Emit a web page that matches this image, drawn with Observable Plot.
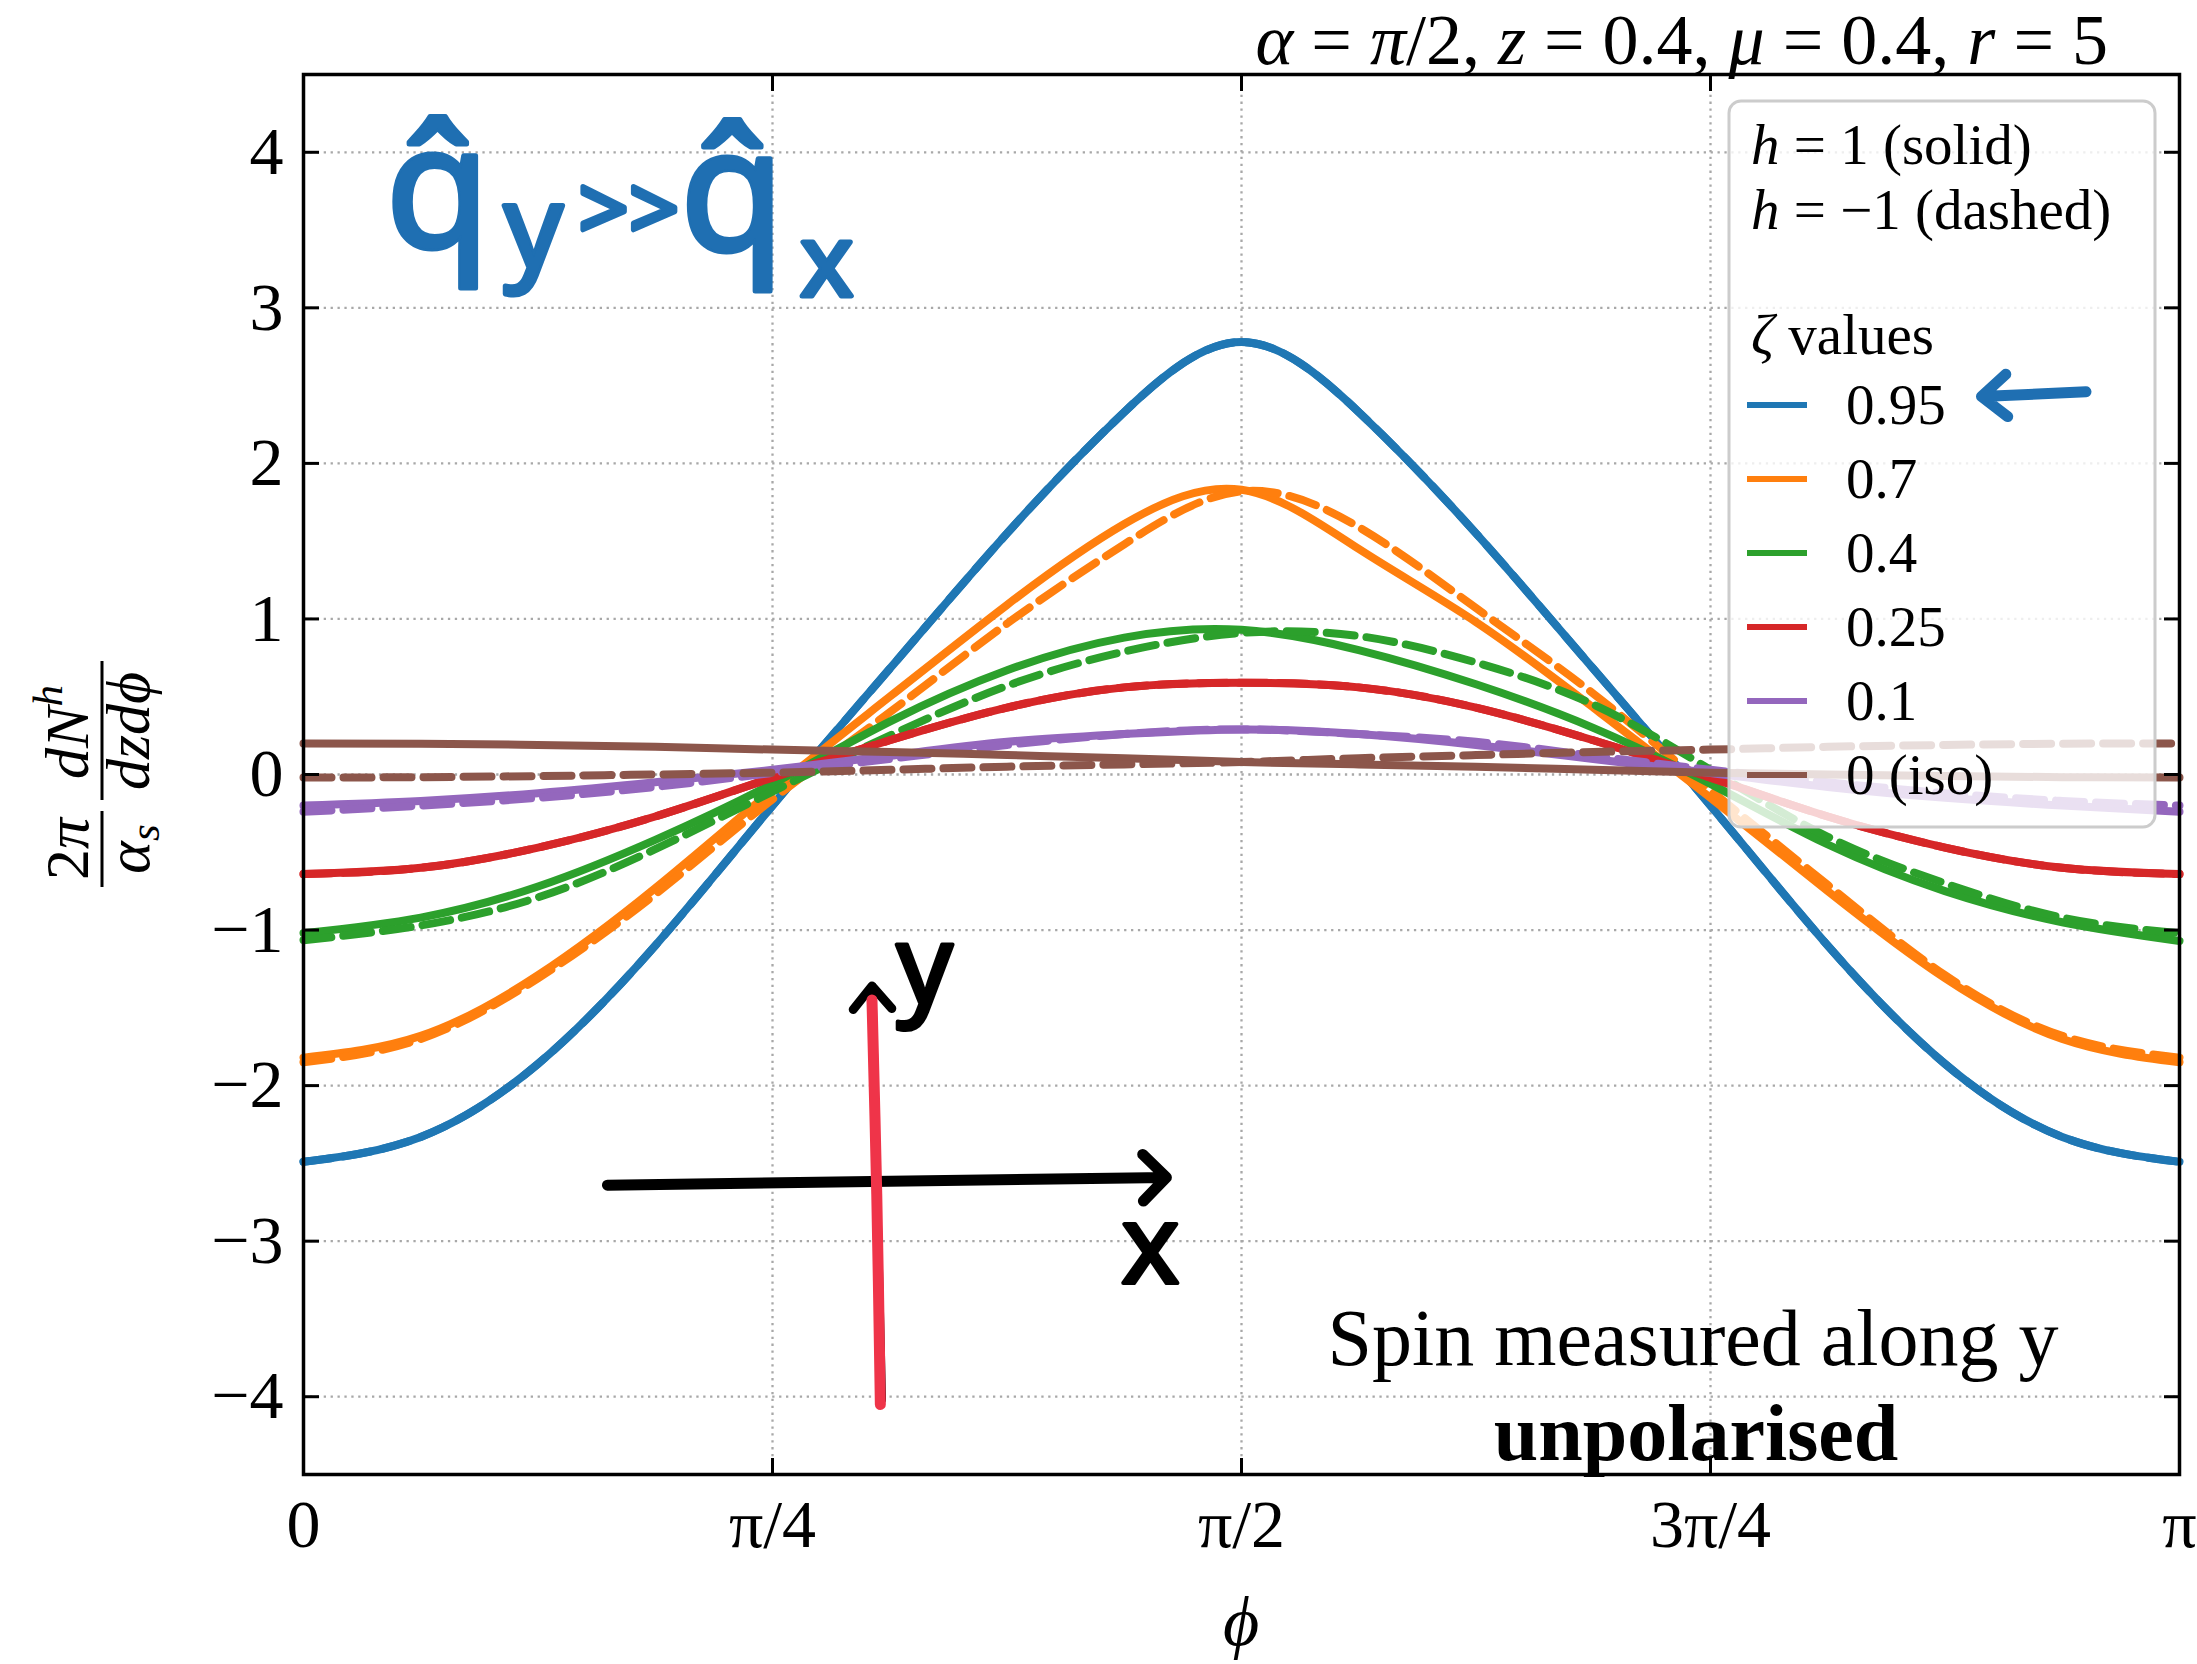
<!DOCTYPE html>
<html><head><meta charset="utf-8">
<script src="https://cdn.jsdelivr.net/npm/d3@7"></script>
<script src="https://cdn.jsdelivr.net/npm/@observablehq/plot@0.6"></script>
<style>html,body{margin:0;padding:0;background:#fff;overflow:hidden}</style>
</head><body><div id="chart"></div>
<script>
// φ sample points, in units of π/16
const phiSteps = [0,1,2,3,4,5,6,7,8,9,10,11,12,13,14,15,16];

const zetaLabels = ["0.95","0.7","0.4","0.25","0.1","0 (iso)"];
const zetaColors = ["#1f77b4","#ff7f0e","#2ca02c","#d62728","#9467bd","#8c564b"];

// h = +1 (solid) and h = -1 (dashed) curves
const zeta095_hPlus  = [-2.49,-2.33,-1.86,-1.10,-0.20,0.68,1.55,2.33,2.78,2.33,1.55,0.68,-0.20,-1.10,-1.86,-2.33,-2.49];
const zeta095_hMinus = [-2.49,-2.33,-1.86,-1.10,-0.20,0.68,1.55,2.33,2.78,2.33,1.55,0.68,-0.20,-1.10,-1.86,-2.33,-2.49];
const zeta07_hPlus   = [-1.82,-1.68,-1.29,-0.73,-0.10,0.50,1.09,1.61,1.83,1.45,0.98,0.43,-0.15,-0.75,-1.31,-1.70,-1.85];
const zeta07_hMinus  = [-1.85,-1.70,-1.31,-0.77,-0.16,0.40,0.97,1.48,1.82,1.59,1.07,0.52,-0.10,-0.71,-1.29,-1.68,-1.82];
const zeta04_hPlus   = [-1.02,-0.92,-0.72,-0.42,-0.06,0.34,0.67,0.88,0.93,0.80,0.58,0.30,-0.06,-0.45,-0.75,-0.95,-1.07];
const zeta04_hMinus  = [-1.065,-0.97,-0.79,-0.48,-0.11,0.25,0.57,0.79,0.91,0.89,0.72,0.45,0.03,-0.40,-0.70,-0.92,-1.02];
const zeta025_hPlus  = [-0.64,-0.60,-0.47,-0.27,-0.02,0.22,0.43,0.56,0.59,0.56,0.43,0.22,-0.02,-0.27,-0.47,-0.60,-0.64];
const zeta025_hMinus = [-0.64,-0.60,-0.47,-0.27,-0.02,0.22,0.43,0.56,0.59,0.56,0.43,0.22,-0.02,-0.27,-0.47,-0.60,-0.64];
const zeta01_hPlus   = [-0.20,-0.17,-0.12,-0.05,0.03,0.12,0.21,0.26,0.29,0.26,0.19,0.10,0.01,-0.08,-0.15,-0.20,-0.24];
const zeta01_hMinus  = [-0.24,-0.20,-0.15,-0.08,0.01,0.10,0.19,0.26,0.29,0.26,0.21,0.12,0.03,-0.05,-0.12,-0.17,-0.20];
const zeta0_hPlus    = [0.20,0.198,0.19,0.178,0.16,0.145,0.125,0.105,0.08,0.065,0.05,0.03,0.012,0.0,-0.01,-0.017,-0.02];
const zeta0_hMinus   = [-0.02,-0.017,-0.01,0.0,0.012,0.03,0.05,0.065,0.08,0.105,0.125,0.145,0.16,0.178,0.19,0.198,0.20];

const seriesPlus  = [zeta095_hPlus, zeta07_hPlus, zeta04_hPlus, zeta025_hPlus, zeta01_hPlus, zeta0_hPlus];
const seriesMinus = [zeta095_hMinus, zeta07_hMinus, zeta04_hMinus, zeta025_hMinus, zeta01_hMinus, zeta0_hMinus];

const xTicks = [0, Math.PI/4, Math.PI/2, 3*Math.PI/4, Math.PI];
const xTickLabels = ["0","π/4","π/2","3π/4","π"];
const yTicks = [-4,-3,-2,-1,0,1,2,3,4];

// hand-drawn annotations (data coordinates)
const handArrowX = [{x1:0.509, y1:-2.64, x2:1.445, y2:-2.59}];
const handArrowY = [{x1:0.968, y1:-4.02, x2:0.952, y2:-1.36}];
const handArrowLegend = [{x1:2.985, y1:2.46, x2:2.81, y2:2.43}];
const handRedLine = [{x:0.966, y:-4.05},{x:0.960, y:-2.7},{x:0.952, y:-1.45}];
const handBlueText = [
  {x:0.225, y:3.74, t:"q̂", s:170},
  {x:0.385, y:3.50, t:"y", s:115},
  {x:0.545, y:3.62, t:">>", s:88},
  {x:0.718, y:3.72, t:"q̂", s:170},
  {x:0.876, y:3.28, t:"x", s:100}
];
const handBlackText = [
  {x:1.040, y:-1.25, t:"y", s:110},
  {x:1.418, y:-3.04, t:"x", s:110}
];
const noteLine1 = [{x:2.327, y:-3.63, t:"Spin measured along y"}];
const noteLine2 = [{x:2.332, y:-4.24, t:"unpolarised"}];

function rowsOf(values) {
  return values.map((v, i) => ({phi: phiSteps[i] * Math.PI / 16, value: v}));
}

const lineMarks = [];
zetaLabels.forEach((z, i) => {
  lineMarks.push(Plot.line(rowsOf(seriesPlus[i]), {x:"phi", y:"value", stroke: zetaColors[i], strokeWidth: 8, curve: "natural"}));
  lineMarks.push(Plot.line(rowsOf(seriesMinus[i]), {x:"phi", y:"value", stroke: zetaColors[i], strokeWidth: 8, strokeDasharray: "28,12", curve: "natural"}));
});

const gridStyle = {stroke:"#a8a8a8", strokeOpacity:1, strokeWidth:2.3, strokeDasharray:"2.3,4.6"};
const handBlue = "#1f6fb2";
const fmtY = d => (d < 0 ? "−" : "") + Math.abs(d);

const plot = Plot.plot({
  width: 2197, height: 1664,
  marginLeft: 303, marginRight: 18, marginTop: 74, marginBottom: 190,
  x: {domain: [0, Math.PI]},
  y: {domain: [-4.5, 4.5]},
  style: {fontFamily: "Liberation Serif", fontSize: "68px", color: "black", background: "white"},
  marks: [
    Plot.gridX(xTicks, gridStyle),
    Plot.gridY(yTicks, gridStyle),
    ...lineMarks,
    Plot.frame({stroke: "black", strokeWidth: 3.5}),
    Plot.axisX(xTicks, {anchor: "bottom", tickSize: -16, tickPadding: 40, strokeWidth: 3, tickFormat: d => xTickLabels[xTicks.indexOf(d)], label: null}),
    Plot.axisX(xTicks, {anchor: "top", tickSize: -16, strokeWidth: 3, tickFormat: () => "", label: null}),
    Plot.axisY(yTicks, {anchor: "left", tickSize: -16, tickPadding: 36, strokeWidth: 3, tickFormat: fmtY, label: null}),
    Plot.axisY(yTicks, {anchor: "right", tickSize: -16, strokeWidth: 3, tickFormat: () => "", label: null}),
    // annotations
    Plot.text(noteLine1, {x:"x", y:"y", text:"t", fontSize: 80, fontFamily: "Liberation Serif", fill: "black"}),
    Plot.text(noteLine2, {x:"x", y:"y", text:"t", fontSize: 80, fontWeight: "bold", fontFamily: "Liberation Serif", fill: "black"}),
    Plot.arrow(handArrowX, {x1:"x1", y1:"y1", x2:"x2", y2:"y2", stroke:"black", strokeWidth: 11, headLength: 4.5, headAngle: 90, strokeLinecap:"round"}),
    Plot.arrow(handArrowY, {x1:"x1", y1:"y1", x2:"x2", y2:"y2", stroke:"black", strokeWidth: 9, headLength: 5, headAngle: 80, strokeLinecap:"round"}),
    Plot.line(handRedLine, {x:"x", y:"y", stroke:"#ef3449", strokeWidth: 11, strokeLinecap:"round", curve:"catmull-rom"}),
    Plot.arrow(handArrowLegend, {x1:"x1", y1:"y1", x2:"x2", y2:"y2", stroke: handBlue, strokeWidth: 11, headLength: 4.5, headAngle: 80, strokeLinecap:"round"}),
    Plot.text(handBlueText, {x:"x", y:"y", text:"t", fontSize: d => d.s, fontFamily: "Noto Sans", fill: handBlue, stroke: handBlue, strokeWidth: 5, strokeLinejoin: "round"}),
    Plot.text(handBlackText, {x:"x", y:"y", text:"t", fontSize: d => d.s, fontFamily: "Noto Sans", fill: "black", stroke: "black", strokeWidth: 4})
  ]
});
document.getElementById("chart").append(plot);

const svg = d3.select(plot);

// Legend (inserted above the curves, below the annotations)
const lineGs = plot.querySelectorAll('g[aria-label="line"]');
const legend = d3.create("svg:g").attr("font-family", "Liberation Serif").attr("font-size", 57).attr("text-anchor", "start");
legend.append("rect").attr("x", 1729).attr("y", 101).attr("width", 426).attr("height", 726)
  .attr("rx", 12).attr("fill", "white").attr("fill-opacity", 0.8).attr("stroke", "#cccccc").attr("stroke-width", 3);
const t1 = legend.append("text").attr("x", 1751).attr("y", 164);
t1.append("tspan").attr("font-style", "italic").text("h");
t1.append("tspan").text(" = 1 (solid)");
const t2 = legend.append("text").attr("x", 1751).attr("y", 229);
t2.append("tspan").attr("font-style", "italic").text("h");
t2.append("tspan").text(" = −1 (dashed)");
const t3 = legend.append("text").attr("x", 1751).attr("y", 354);
t3.append("tspan").attr("font-style", "italic").text("ζ");
t3.append("tspan").text(" values");
zetaLabels.forEach((z, i) => {
  const cy = 405 + i * 74;
  legend.append("line").attr("x1", 1747).attr("x2", 1807).attr("y1", cy).attr("y2", cy)
    .attr("stroke", zetaColors[i]).attr("stroke-width", 6);
  legend.append("text").attr("x", 1846).attr("y", cy + 19).text(z);
});
lineGs[11].after(legend.node());

// Title
const title = svg.append("text").attr("x", 2108).attr("y", 64).attr("text-anchor", "end")
  .attr("font-family", "Liberation Serif").attr("font-size", 72);
[["α",1],[" = ",0],["π",1],["/2, ",0],["z",1],[" = 0.4, ",0],["μ",1],[" = 0.4, ",0],["r",1],[" = 5",0]]
  .forEach(([s, it]) => title.append("tspan").attr("font-style", it ? "italic" : "normal").text(s));

// x label
svg.append("text").attr("x", 1241).attr("y", 1645).attr("text-anchor", "middle")
  .attr("font-family", "Liberation Serif").attr("font-size", 70).attr("font-style", "italic").text("ϕ");

// y label (fraction form)
const yl = svg.append("g").attr("transform", "translate(102,777) rotate(-90)")
  .attr("font-family", "Liberation Serif").attr("font-size", 62).attr("text-anchor", "middle");
const n1 = yl.append("text").attr("x", -72).attr("y", -14);
n1.append("tspan").text("2");
n1.append("tspan").attr("font-style", "italic").text("π");
yl.append("line").attr("x1", -110).attr("x2", -34).attr("y1", 0).attr("y2", 0).attr("stroke", "black").attr("stroke-width", 3);
const d1 = yl.append("text").attr("x", -72).attr("y", 47);
d1.append("tspan").attr("font-style", "italic").text("α");
d1.append("tspan").attr("font-style", "italic").attr("font-size", 43).attr("dy", 10).text("s");
const n2 = yl.append("text").attr("x", 45).attr("y", -14);
n2.append("tspan").attr("font-style", "italic").text("dN");
n2.append("tspan").attr("font-style", "italic").attr("font-size", 43).attr("dy", -26).text("h");
yl.append("line").attr("x1", -23).attr("x2", 116).attr("y1", 0).attr("y2", 0).attr("stroke", "black").attr("stroke-width", 3);
yl.append("text").attr("x", 46).attr("y", 47).attr("font-style", "italic").text("dzdϕ");
</script>
</body></html>
